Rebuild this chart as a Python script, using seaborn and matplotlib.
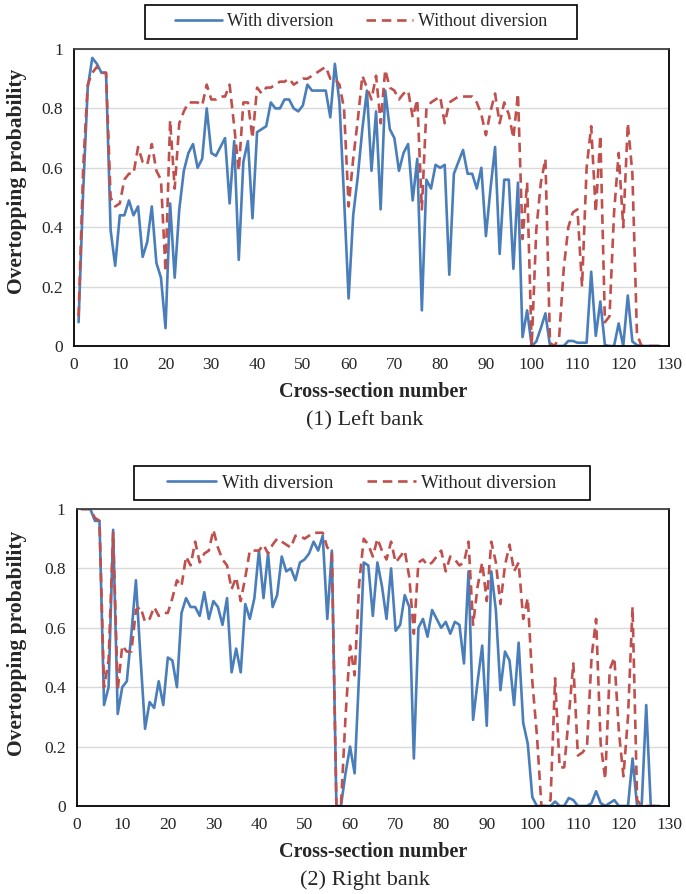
import numpy as np
import matplotlib
matplotlib.use("Agg")
import matplotlib.pyplot as plt
from matplotlib.patches import Rectangle
import seaborn as sns

# cross-section numbers 1..128
sections = list(range(1, 129))

left_with = [0.08, 0.52, 0.87, 0.97, 0.95, 0.92, 0.92, 0.39, 0.27, 0.44,
             0.44, 0.49, 0.44, 0.47, 0.30, 0.35, 0.47, 0.28, 0.23, 0.06,
             0.48, 0.23, 0.46, 0.59, 0.65, 0.68, 0.60, 0.63, 0.80, 0.65,
             0.64, 0.67, 0.70, 0.48, 0.69, 0.29, 0.62, 0.69, 0.43, 0.72,
             0.73, 0.74, 0.82, 0.80, 0.80, 0.83, 0.83, 0.80, 0.79, 0.81,
             0.88, 0.86, 0.86, 0.86, 0.86, 0.77, 0.95, 0.82, 0.50, 0.16,
             0.44, 0.57, 0.73, 0.86, 0.59, 0.79, 0.46, 0.86, 0.73, 0.70,
             0.59, 0.65, 0.68, 0.49, 0.63, 0.12, 0.56, 0.53, 0.61, 0.60,
             0.61, 0.24, 0.58, 0.62, 0.66, 0.58, 0.58, 0.53, 0.60, 0.37,
             0.53, 0.67, 0.31, 0.56, 0.56, 0.26, 0.55, 0.03, 0.12, 0.00,
             0.015, 0.06, 0.11, 0.00, 0.00, 0.00, 0.00, 0.017, 0.017, 0.011,
             0.011, 0.011, 0.25, 0.034, 0.15, 0.003, 0.00, 0.00, 0.076, 0.00,
             0.17, 0.015, 0.003, 0.00, 0.00, 0.00, 0.00, 0.00]

left_without = [0.10, 0.60, 0.88, 0.92, 0.94, 0.92, 0.92, 0.50, 0.47, 0.48,
                0.56, 0.58, 0.58, 0.67, 0.62, 0.61, 0.68, 0.59, 0.56, 0.25,
                0.76, 0.53, 0.75, 0.79, 0.82, 0.82, 0.82, 0.81, 0.88, 0.83,
                0.83, 0.84, 0.84, 0.88, 0.74, 0.59, 0.82, 0.82, 0.70, 0.87,
                0.85, 0.87, 0.87, 0.88, 0.89, 0.89, 0.90, 0.88, 0.89, 0.90,
                0.90, 0.91, 0.92, 0.93, 0.94, 0.90, 0.90, 0.88, 0.80, 0.47,
                0.63, 0.76, 0.91, 0.87, 0.83, 0.91, 0.75, 0.93, 0.87, 0.86,
                0.83, 0.85, 0.86, 0.77, 0.83, 0.46, 0.80, 0.82, 0.83, 0.84,
                0.75, 0.82, 0.83, 0.84, 0.84, 0.84, 0.84, 0.82, 0.78, 0.71,
                0.79, 0.85, 0.75, 0.82, 0.78, 0.70, 0.85, 0.36, 0.55, 0.00,
                0.39, 0.55, 0.63, 0.01, 0.00, 0.03, 0.26, 0.40, 0.45, 0.46,
                0.20, 0.60, 0.74, 0.45, 0.71, 0.08, 0.10, 0.45, 0.65, 0.40,
                0.75, 0.58, 0.04, 0.00, 0.00, 0.00, 0.00, 0.00]

right_with = [1.00, 1.00, 1.00, 0.96, 0.96, 0.34, 0.40, 0.93, 0.31, 0.40,
              0.42, 0.58, 0.76, 0.50, 0.26, 0.35, 0.33, 0.42, 0.34, 0.50,
              0.49, 0.40, 0.65, 0.70, 0.67, 0.67, 0.64, 0.72, 0.63, 0.69,
              0.67, 0.61, 0.70, 0.45, 0.53, 0.45, 0.68, 0.63, 0.70, 0.86,
              0.70, 0.85, 0.67, 0.71, 0.84, 0.79, 0.80, 0.76, 0.82, 0.83,
              0.85, 0.89, 0.86, 0.91, 0.63, 0.86, 0.00, 0.00, 0.11, 0.20,
              0.11, 0.45, 0.82, 0.81, 0.64, 0.82, 0.74, 0.63, 0.80, 0.59,
              0.61, 0.71, 0.67, 0.16, 0.60, 0.63, 0.57, 0.66, 0.63, 0.60,
              0.62, 0.58, 0.62, 0.61, 0.48, 0.79, 0.29, 0.42, 0.54, 0.27,
              0.79, 0.66, 0.39, 0.52, 0.49, 0.34, 0.55, 0.28, 0.21, 0.03,
              0.00, 0.00, 0.00, 0.00, 0.015, 0.00, 0.00, 0.027, 0.02, 0.00,
              0.00, 0.00, 0.01, 0.05, 0.01, 0.00, 0.01, 0.02, 0.00, 0.00,
              0.00, 0.16, 0.00, 0.00, 0.34, 0.00, 0.00, 0.00]

right_without = [1.00, 1.00, 1.00, 0.97, 0.96, 0.40, 0.49, 0.92, 0.39, 0.54,
                 0.52, 0.52, 0.66, 0.67, 0.62, 0.63, 0.67, 0.64, 0.65, 0.65,
                 0.70, 0.76, 0.74, 0.84, 0.81, 0.89, 0.82, 0.85, 0.86, 0.93,
                 0.87, 0.83, 0.81, 0.73, 0.77, 0.69, 0.77, 0.86, 0.86, 0.86,
                 0.88, 0.85, 0.88, 0.90, 0.89, 0.88, 0.87, 0.91, 0.91, 0.90,
                 0.91, 0.92, 0.92, 0.92, 0.87, 0.86, 0.00, 0.00, 0.30, 0.54,
                 0.44, 0.75, 0.90, 0.88, 0.84, 0.90, 0.86, 0.83, 0.89, 0.82,
                 0.84, 0.86, 0.77, 0.58, 0.82, 0.83, 0.81, 0.82, 0.84, 0.86,
                 0.79, 0.84, 0.83, 0.81, 0.82, 0.89, 0.61, 0.74, 0.82, 0.69,
                 0.89, 0.82, 0.68, 0.81, 0.88, 0.79, 0.82, 0.63, 0.70, 0.42,
                 0.24, 0.00, 0.00, 0.02, 0.43, 0.13, 0.13, 0.30, 0.48, 0.17,
                 0.18, 0.20, 0.50, 0.63, 0.21, 0.09, 0.46, 0.50, 0.25, 0.10,
                 0.30, 0.67, 0.02, 0.00, 0.00, 0.00, 0.00, 0.00]

x_ticks = list(range(0, 131, 10))
y_ticks = [0, 0.2, 0.4, 0.6, 0.8, 1.0]
y_tick_labels = ["0", "0.2", "0.4", "0.6", "0.8", "1"]

BLUE = "#4a7ebb"
RED = "#c0504d"
W, H = 686, 894

sns.set_style("white")
plt.rcParams["font.family"] = ["Liberation Serif", "DejaVu Serif"]

fig = plt.figure(figsize=(W / 100, H / 100), dpi=100)


def px_box(left, top, right, bottom):
    return [left / W, 1 - bottom / H, (right - left) / W, (bottom - top) / H]


panels = [
    dict(with_div=left_with, without_div=left_without, box=px_box(74, 49, 669, 346),
         frame=(145, 5, 577, 39), leg_fs=13, ylab_y=181, xlab_y=392,
         title="(1) Left bank", title_y=421),
    dict(with_div=right_with, without_div=right_without, box=px_box(76.7, 509, 669, 806),
         frame=(134, 466, 590, 500), leg_fs=13.5, ylab_y=643, xlab_y=852,
         title="(2) Right bank", title_y=880),
]

for p in panels:
    ax = fig.add_axes(p["box"])
    sns.lineplot(x=sections, y=p["with_div"], ax=ax, color=BLUE, lw=1.9,
                 errorbar=None, label="With diversion")
    sns.lineplot(x=sections, y=p["without_div"], ax=ax, color=RED, lw=1.9,
                 errorbar=None, linestyle=(0, (3.6, 2.2)), label="Without diversion")
    ax.set_xlim(0, 130)
    ax.set_ylim(0, 1)
    ax.set_xticks(x_ticks)
    ax.set_yticks(y_ticks)
    ax.set_yticklabels(y_tick_labels)
    ax.tick_params(axis="both", direction="out", length=5, width=1.1,
                   labelsize=12.5, color="black", pad=3)
    ax.grid(axis="y", color="#d9d9d9", lw=1)
    ax.set_axisbelow(True)
    for s in ["left", "bottom", "right"]:
        ax.spines[s].set_color("black")
        ax.spines[s].set_linewidth(1.3)
    ax.spines["top"].set_color("#404040")
    ax.spines["top"].set_linewidth(1.3)
    ax.set_xlabel("")
    ax.set_ylabel("")

    handles, labels = ax.get_legend_handles_labels()
    ax.get_legend().remove()
    l, t, r, b = p["frame"]
    fig.legend(handles, labels, loc="center", ncol=2, frameon=False,
               bbox_to_anchor=((l + r) / 2 / W, 1 - (t + b) / 2 / H),
               fontsize=p["leg_fs"], handlelength=2.6, handletextpad=0.3,
               columnspacing=1.8, borderpad=0.2)
    fig.add_artist(Rectangle((l / W, 1 - b / H), (r - l) / W, (b - t) / H,
                             transform=fig.transFigure, fill=False,
                             edgecolor="black", lw=1.2))

    fig.text(17 / W, 1 - p["ylab_y"] / H, "Overtopping probability", rotation=90,
             ha="center", va="center", fontsize=15.5, fontweight="bold")
    fig.text(373 / W, 1 - p["xlab_y"] / H, "Cross-section number",
             ha="center", va="center", fontsize=14.5, fontweight="bold")
    fig.text(365 / W, 1 - p["title_y"] / H, p["title"],
             ha="center", va="center", fontsize=16)

fig.savefig("out.png", dpi=100)
